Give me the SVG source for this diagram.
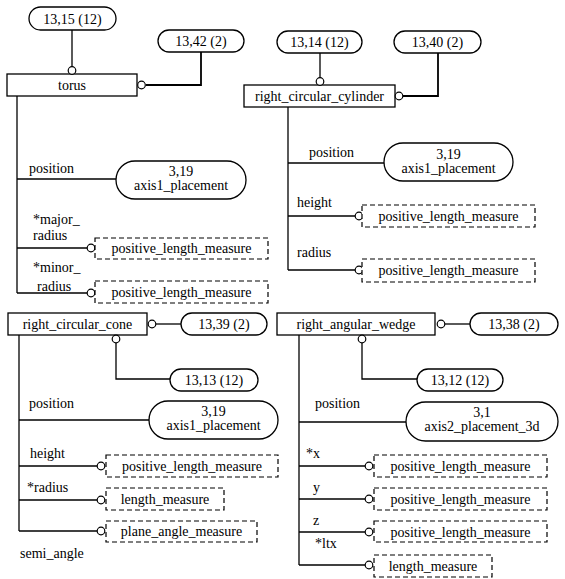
<svg xmlns="http://www.w3.org/2000/svg" width="565" height="579" viewBox="0 0 565 579" font-family="'Liberation Serif', 'Times New Roman', 'DejaVu Serif', serif" font-size="14">
<style>
text{font-family:'Liberation Serif','Times New Roman','DejaVu Serif',serif;font-size:14px;fill:#000}
.c{text-anchor:middle}
.box{fill:#fff;stroke:#000;stroke-width:1.3}
.dash{fill:#fff;stroke:#000;stroke-width:1.2;stroke-dasharray:5,3}
.pill{fill:#fff;stroke:#000;stroke-width:1.3}
.ln{fill:none;stroke:#000;stroke-width:1.3}
.bold{fill:none;stroke:#000;stroke-width:1.8}
.o{fill:#fff;stroke:#000;stroke-width:1.2}
</style>
<rect width="565" height="579" fill="#fff"/>
<g id="connectors">
<path class="ln" d="M72,30V67"/>
<path class="bold" d="M146,85H201V52"/>
<path class="ln" d="M17,96V293"/>
<path class="ln" d="M17,179H116"/>
<path class="ln" d="M17,248H87"/>
<path class="ln" d="M17,293H87"/>
<path class="ln" d="M320,52V80"/>
<path class="bold" d="M403,96H438V52"/>
<path class="ln" d="M288,107V270"/>
<path class="ln" d="M288,163H384"/>
<path class="ln" d="M288,216H355"/>
<path class="ln" d="M288,270H355"/>
<path class="ln" d="M156,324H181"/>
<path class="ln" d="M116,343V379H170"/>
<path class="ln" d="M19,335V531"/>
<path class="ln" d="M19,420H149"/>
<path class="ln" d="M19,466H97"/>
<path class="ln" d="M19,500H97"/>
<path class="ln" d="M19,531H97"/>
<path class="ln" d="M445,324H470"/>
<path class="ln" d="M362,343V379H417"/>
<path class="ln" d="M299,335V565"/>
<path class="ln" d="M299,422H406"/>
<path class="ln" d="M299,466H365"/>
<path class="ln" d="M299,499H365"/>
<path class="ln" d="M299,532H365"/>
<path class="ln" d="M299,565H365"/>
</g>
<g id="torus">
<rect class="box" x="7" y="74" width="130" height="22"/>
<text class="c" x="72" y="90">torus</text>
<circle class="o" cx="72" cy="70.5" r="3.8"/>
<circle class="o" cx="141.5" cy="85" r="3.8"/>
</g>
<g id="torus_ref1">
<rect class="pill" x="29" y="7" width="87" height="23" rx="11.5"/>
<text class="c" x="72.5" y="23.5">13,15 (12)</text>
</g>
<g id="torus_ref2">
<rect class="pill" x="158" y="30" width="86" height="22" rx="11"/>
<text class="c" x="201" y="46">13,42 (2)</text>
</g>
<g id="torus_position">
<text x="29" y="173">position</text>
<rect class="pill" x="116" y="161" width="130" height="38" rx="19"/>
<text class="c" x="181" y="176">3,19</text>
<text class="c" x="181" y="190">axis1_placement</text>
</g>
<g id="torus_major">
<text x="33" y="224">*major_</text>
<text x="33" y="240">radius</text>
<circle class="o" cx="91" cy="248" r="3.8"/>
<rect class="dash" x="95" y="238" width="173" height="21"/>
<text class="c" x="181.5" y="253">positive_length_measure</text>
</g>
<g id="torus_minor">
<text x="33" y="272">*minor_</text>
<text x="37" y="291">radius</text>
<circle class="o" cx="91" cy="293" r="3.8"/>
<rect class="dash" x="95" y="281" width="173" height="22"/>
<text class="c" x="181.5" y="297">positive_length_measure</text>
</g>
<g id="cylinder">
<rect class="box" x="244" y="85" width="151" height="22"/>
<text class="c" x="319.5" y="101">right_circular_cylinder</text>
<circle class="o" cx="320" cy="81.5" r="3.8"/>
<circle class="o" cx="399" cy="96" r="3.8"/>
</g>
<g id="cylinder_ref1">
<rect class="pill" x="277" y="31" width="85" height="22" rx="11"/>
<text class="c" x="319.5" y="47">13,14 (12)</text>
</g>
<g id="cylinder_ref2">
<rect class="pill" x="394" y="31" width="87" height="22" rx="11"/>
<text class="c" x="437.5" y="47">13,40 (2)</text>
</g>
<g id="cylinder_position">
<text x="309" y="157">position</text>
<rect class="pill" x="384" y="143" width="129" height="38" rx="19"/>
<text class="c" x="448.5" y="159">3,19</text>
<text class="c" x="448.5" y="173">axis1_placement</text>
</g>
<g id="cylinder_height">
<text x="297" y="207">height</text>
<circle class="o" cx="359" cy="216" r="3.8"/>
<rect class="dash" x="362" y="205" width="173" height="22"/>
<text class="c" x="448.5" y="221">positive_length_measure</text>
</g>
<g id="cylinder_radius">
<text x="297" y="257">radius</text>
<circle class="o" cx="359" cy="270" r="3.8"/>
<rect class="dash" x="362" y="259" width="173" height="23"/>
<text class="c" x="448.5" y="275">positive_length_measure</text>
</g>
<g id="cone">
<rect class="box" x="8" y="313" width="139" height="22"/>
<text class="c" x="77.5" y="329">right_circular_cone</text>
<circle class="o" cx="152" cy="324" r="3.8"/>
<circle class="o" cx="116" cy="339" r="3.8"/>
</g>
<g id="cone_ref1">
<rect class="pill" x="181" y="313" width="86" height="22" rx="11"/>
<text class="c" x="224" y="329">13,39 (2)</text>
</g>
<g id="cone_ref2">
<rect class="pill" x="170" y="369" width="88" height="22" rx="11"/>
<text class="c" x="214" y="385">13,13 (12)</text>
</g>
<g id="cone_position">
<text x="29" y="408">position</text>
<rect class="pill" x="149" y="401" width="129" height="38" rx="19"/>
<text class="c" x="213.5" y="416">3,19</text>
<text class="c" x="213.5" y="430">axis1_placement</text>
</g>
<g id="cone_height">
<text x="30" y="458">height</text>
<circle class="o" cx="101" cy="466" r="3.8"/>
<rect class="dash" x="106" y="455" width="172" height="22"/>
<text class="c" x="192" y="471">positive_length_measure</text>
</g>
<g id="cone_radius">
<text x="27" y="492">*radius</text>
<circle class="o" cx="101" cy="500" r="3.8"/>
<rect class="dash" x="106" y="488" width="118" height="22"/>
<text class="c" x="165" y="504">length_measure</text>
</g>
<g id="cone_semi_angle">
<circle class="o" cx="101" cy="531" r="3.8"/>
<rect class="dash" x="106" y="521" width="151" height="21"/>
<text class="c" x="181.5" y="536">plane_angle_measure</text>
<text x="20" y="558">semi_angle</text>
</g>
<g id="wedge">
<rect class="box" x="277" y="313" width="158" height="22"/>
<text class="c" x="356" y="329">right_angular_wedge</text>
<circle class="o" cx="441" cy="324" r="3.8"/>
<circle class="o" cx="362" cy="339" r="3.8"/>
</g>
<g id="wedge_ref1">
<rect class="pill" x="470" y="313" width="88" height="22" rx="11"/>
<text class="c" x="514" y="329">13,38 (2)</text>
</g>
<g id="wedge_ref2">
<rect class="pill" x="417" y="369" width="86" height="22" rx="11"/>
<text class="c" x="460" y="385">13,12 (12)</text>
</g>
<g id="wedge_position">
<text x="315" y="408">position</text>
<rect class="pill" x="406" y="402" width="152" height="39" rx="19.5"/>
<text class="c" x="482" y="417">3,1</text>
<text class="c" x="482" y="431">axis2_placement_3d</text>
</g>
<g id="wedge_x">
<text x="306" y="458">*x</text>
<circle class="o" cx="369" cy="466" r="3.8"/>
<rect class="dash" x="374" y="455" width="173" height="22"/>
<text class="c" x="460.5" y="471">positive_length_measure</text>
</g>
<g id="wedge_y">
<text x="313" y="492">y</text>
<circle class="o" cx="369" cy="499" r="3.8"/>
<rect class="dash" x="374" y="488" width="173" height="22"/>
<text class="c" x="460.5" y="504">positive_length_measure</text>
</g>
<g id="wedge_z">
<text x="313" y="525">z</text>
<circle class="o" cx="369" cy="532" r="3.8"/>
<rect class="dash" x="374" y="521" width="173" height="21"/>
<text class="c" x="460.5" y="537">positive_length_measure</text>
</g>
<g id="wedge_ltx">
<text x="315" y="548">*ltx</text>
<circle class="o" cx="369" cy="565" r="3.8"/>
<rect class="dash" x="374" y="555" width="118" height="22"/>
<text class="c" x="433" y="571">length_measure</text>
</g>
</svg>
